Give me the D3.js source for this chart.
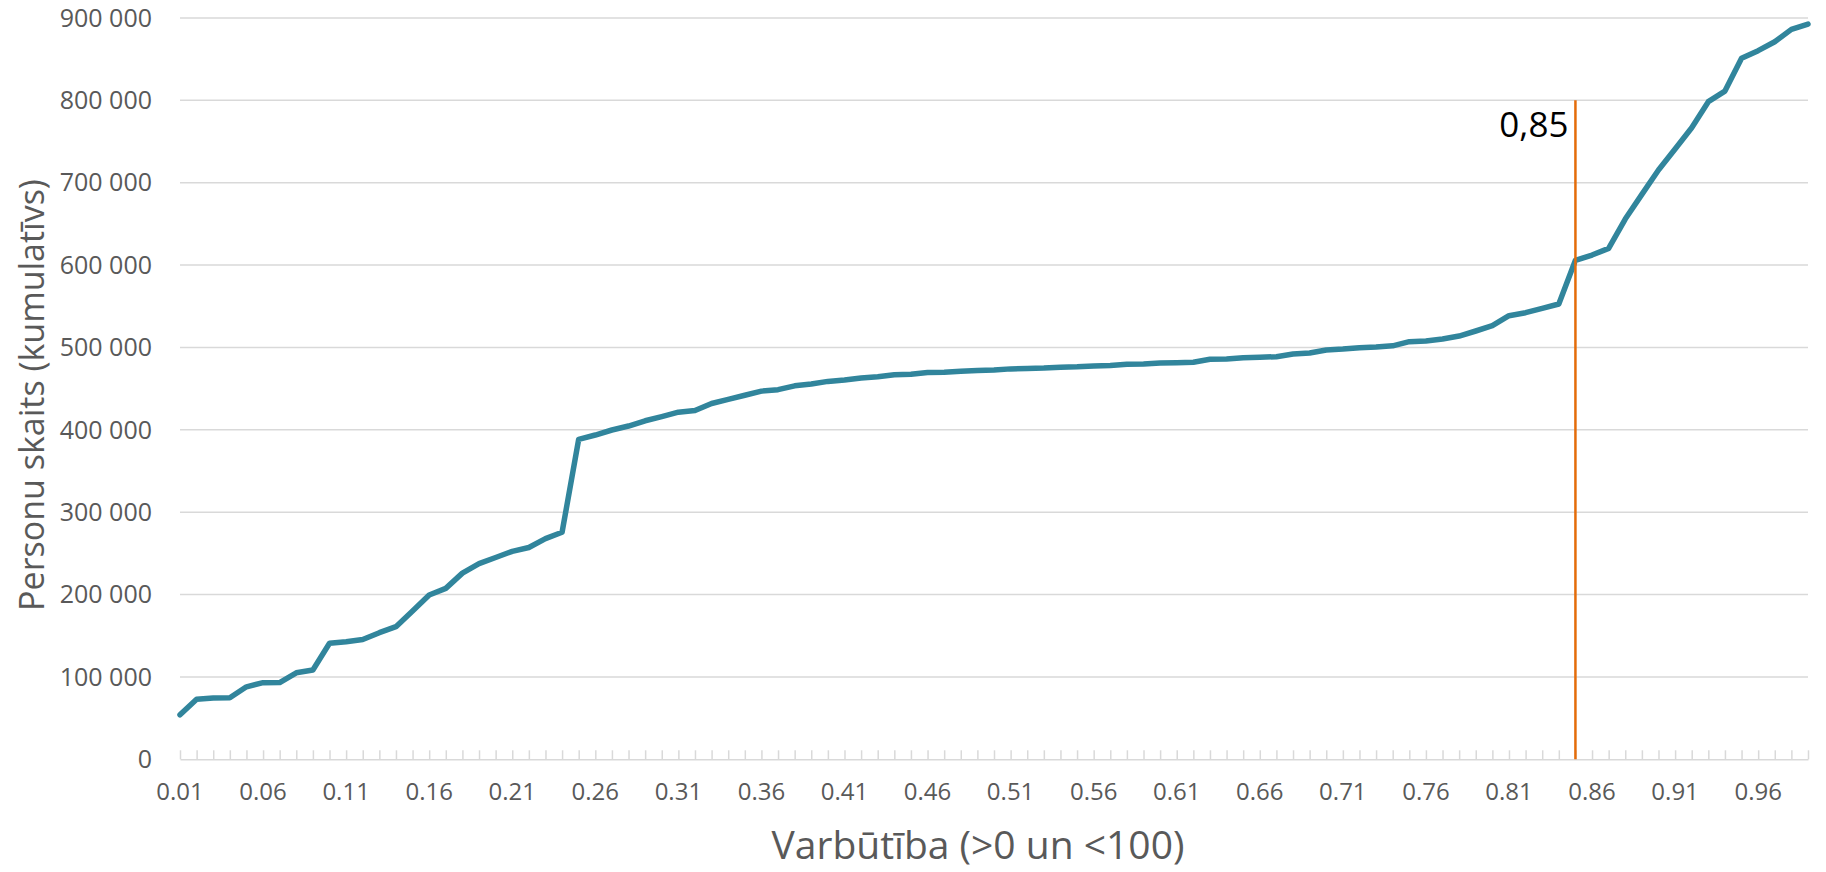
<!DOCTYPE html>
<html>
<head>
<meta charset="utf-8">
<script src="https://cdn.jsdelivr.net/npm/d3@7"></script>
<style>
  html, body { margin: 0; padding: 0; background: #fff; }
  svg { display: block; font-family: "Open Sans", "Noto Sans", sans-serif; }
</style>
</head>
<body>
<svg id="chart" width="1826" height="872"></svg>
<script>
// ---- data ----
const categories = d3.range(1, 100).map(i => (i / 100).toFixed(2));
const persons = [
  54000, 72800, 74500, 74800, 88000, 93000, 93200, 105000, 108400, 140800,
  142800, 145500, 153700, 161000, 180000, 199500, 207500, 226000, 237500, 245000,
  252500, 257200, 268000, 275600, 388500, 393700, 399800, 404600, 411000, 416000,
  421400, 423400, 432000, 437000, 442000, 447000, 448800, 453400, 455600, 458800,
  460500, 462900, 464500, 466800, 467500, 469500, 470000, 471000, 472000, 472500,
  474000, 474500, 475000, 476000, 476500, 477500, 478000, 479500, 480000, 481000,
  481500, 482000, 485600, 486000, 487600, 488000, 488800, 492000, 493300, 496900,
  498000, 499700, 500500, 502000, 507000, 507800, 510300, 513900, 520000, 526400,
  538600, 542200, 547500, 552800, 605800, 612200, 620300, 655900, 685900, 715400,
  740900, 766800, 798400, 811300, 851000, 860300, 871200, 886200, 892700
];
const xTickLabels = categories.filter((d, i) => i % 5 === 0);
const yTicks = d3.range(0, 900001, 100000);
const markerCategory = "0.85";
const markerLabel = "0,85";
const markerTop = 800000;
const xTitle = "Varbūtība (>0 un <100)";
const yTitle = "Personu skaits (kumulatīvs)";

// ---- layout ----
const plotLeft = 180, plotRight = 1808, plotTop = 18, plotBottom = 759.3;
const svg = d3.select("#chart");

const x = d3.scalePoint().domain(categories).range([plotLeft, plotRight]);
const y = d3.scaleLinear().domain([0, 900000]).range([plotBottom, plotTop]);

const fmt = v => d3.format(",")(v).replace(/,/g, " ");

// gridlines
svg.append("g").selectAll("line").data(yTicks.filter(v => v > 0)).join("line")
  .attr("x1", plotLeft).attr("x2", plotRight)
  .attr("y1", d => y(d)).attr("y2", d => y(d))
  .attr("stroke", "#d9d9d9").attr("stroke-width", 1.5);

// x axis (inside ticks, no default labels)
const xAxis = svg.append("g")
  .attr("transform", `translate(0,${plotBottom})`)
  .call(d3.axisBottom(x).tickSizeInner(-9).tickSizeOuter(0).tickFormat(""));
xAxis.select(".domain").attr("stroke", "#d9d9d9").attr("stroke-width", 1.5);
xAxis.selectAll(".tick line").attr("stroke", "#d9d9d9").attr("stroke-width", 1.5);

// x tick labels
svg.append("g").selectAll("text").data(xTickLabels).join("text")
  .attr("x", d => x(d)).attr("y", plotBottom + 41)
  .attr("text-anchor", "middle")
  .attr("font-size", 24).attr("fill", "#595959")
  .text(d => d);

// y tick labels
svg.append("g").selectAll("text").data(yTicks).join("text")
  .attr("x", 152).attr("y", d => y(d))
  .attr("dy", "0.35em")
  .attr("text-anchor", "end")
  .attr("font-size", 25).attr("fill", "#595959")
  .text(d => fmt(d));

// axis titles
svg.append("text")
  .attr("transform", `translate(44,395) rotate(-90)`)
  .attr("text-anchor", "middle")
  .attr("font-size", 34).attr("fill", "#595959")
  .text(yTitle);

svg.append("text")
  .attr("x", 978).attr("y", 859)
  .attr("text-anchor", "middle")
  .attr("font-size", 39).attr("fill", "#595959")
  .text(xTitle);

// data line
const line = d3.line().x((d, i) => x(categories[i])).y(d => y(d));
svg.append("path")
  .datum(persons)
  .attr("d", line)
  .attr("fill", "none")
  .attr("stroke", "#31859c")
  .attr("stroke-width", 5.5)
  .attr("stroke-linejoin", "round")
  .attr("stroke-linecap", "round");

// marker line
svg.append("line")
  .attr("x1", x(markerCategory)).attr("x2", x(markerCategory))
  .attr("y1", y(markerTop)).attr("y2", y(0))
  .attr("stroke", "#e46c0a").attr("stroke-width", 2.5);

svg.append("text")
  .attr("x", x(markerCategory) - 7).attr("y", 137)
  .attr("text-anchor", "end")
  .attr("font-size", 35).attr("fill", "#000")
  .text(markerLabel);
</script>
</body>
</html>
